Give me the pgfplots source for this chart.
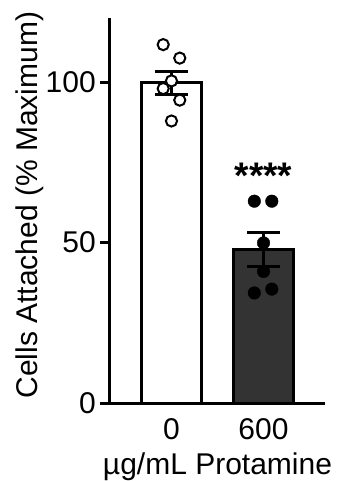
\documentclass[border=0pt]{standalone}
\usepackage{pgfplots}
\pgfplotsset{compat=1.18}
\usepackage{fontspec}
\setmainfont{Liberation Sans}
\definecolor{darkbar}{HTML}{333333}
\pgfplotsset{myerr/.style={error bars/.cd, y dir=both, y explicit, error mark=-,
  error bar style={line width=3pt, black},
  error mark options={rotate=90, line width=3pt, mark size=16.5pt, black}}}
\begin{document}
\begin{tikzpicture}
\begin{axis}[name=ax, scale only axis, width=215pt, height=385pt,
 xmin=-0.668, xmax=1.668, ymin=0, ymax=120,
 axis x line*=bottom, axis y line*=left,
 axis line style={line width=3pt, black},
 xtick={0,1}, xticklabels={0,600},
 ytick={0,50,100},
 tick align=outside,
 x tick style={draw=none}, y tick style={line width=3pt, black},
 major tick length=10pt,
 tick label style={font=\fontsize{30}{36}\selectfont},
 label style={font=\fontsize{30}{36}\selectfont},
 /pgf/number format/assume math mode=true,
 yticklabel style={anchor=east, inner sep=0pt, xshift=-4pt},
 xticklabel style={anchor=north, inner sep=0pt, yshift=-5pt},
 xlabel={µg/mL Protamine},
 xlabel style={at={(axis description cs:0.5,0)}, anchor=north, inner sep=0pt, yshift=-50pt},
 ylabel={Cells Attached (\% Maximum)},
 ylabel style={at={(axis description cs:-0.335,0.514)}, anchor=base, inner sep=0pt},
 clip=false,
]
\addplot[ybar, bar width=60pt, bar shift=0pt, fill=white, draw=black, line width=3pt, myerr]
  coordinates {(0,99.8) +- (0,3.5)};
\addplot[ybar, bar width=60pt, bar shift=0pt, fill=darkbar, draw=black, line width=3pt, myerr]
  coordinates {(1,47.8) +- (0,5.4)};
\addplot[only marks, mark=*, mark size=5.6pt, mark options={fill=white, draw=black, line width=2pt}]
  coordinates {(-0.09,111.7) (0.09,107.5) (0,100.4) (-0.09,98.0) (0.09,94.4) (0,87.9)};
\addplot[only marks, mark=*, mark size=6.3pt, mark options={fill=black, draw=none}]
  coordinates {(0.9,62.9) (1.09,62.9) (1.0,49.9) (1.0,41.0) (0.9,34.3) (1.09,35.5)};
\draw[line width=3pt, black] (axis cs:-0.668,0) -- ++(-10pt,0);
\node[font=\fontsize{37}{40}\selectfont\bfseries, anchor=north, inner sep=0pt] at (axis cs:1,74.7) {****};
\end{axis}
\pgfresetboundingbox
\path (ax.south west) ++(-110pt,-78pt) rectangle ++(337pt,481pt);
\end{tikzpicture}
\end{document}
